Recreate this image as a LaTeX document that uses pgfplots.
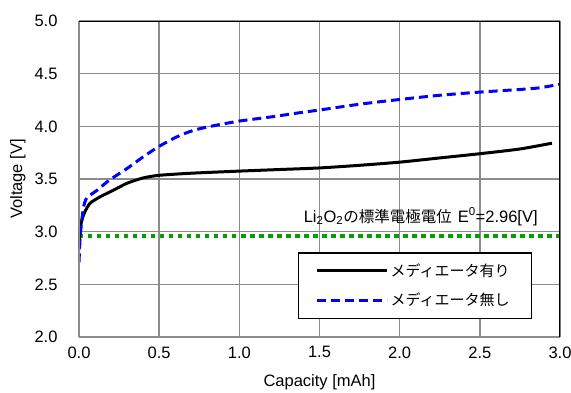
\documentclass[border=0pt]{standalone}
\usepackage{pgfplots}
\pgfplotsset{compat=1.18}
\usepackage{fontspec}
\setmainfont{Liberation Sans}
\newfontfamily\jp{Noto Sans CJK JP}
\definecolor{gridgray}{RGB}{140,140,140}
\definecolor{dgreen}{RGB}{0,160,0}
\begin{document}
\begin{tikzpicture}
\begin{axis}[
  at={(0,0)}, anchor=south west,
  scale only axis, width=481pt, height=316pt,
  xmin=0, xmax=3, ymin=2, ymax=5,
  xtick={0,0.5,1,1.5,2,2.5,3},
  ytick={2,2.5,3,3.5,4,4.5,5},
  /pgf/number format/.cd, fixed, fixed zerofill, precision=1, assume math mode=true, /pgfplots/.cd,
  tick style={draw=none},
  axis line style={draw=none},
  grid=major,
  major grid style={gridgray, line width=1.6pt},
  ticklabel style={font=\fontsize{16.5}{16.5}\selectfont},
  xticklabel style={yshift=-6pt},
  yticklabel style={xshift=-18pt},
  xlabel={Capacity [mAh]},
  ylabel={Voltage [V]},
  label style={font=\fontsize{16.5}{16.5}\selectfont},
  xlabel style={at={(axis description cs:0.5,-0.142)}, anchor=center},
  ylabel style={at={(axis description cs:-0.127,0.5)}, anchor=center},
  legend style={at={(rel axis cs:0.455,0.269)}, anchor=north west, draw=black, line width=1.6pt, fill=white,
    font=\jp\fontsize{15}{15}\selectfont, inner xsep=17pt, inner ysep=9pt, row sep=11pt,
    nodes={text width=122pt, align=left}},
  legend image code/.code={\draw[#1] (0pt,0pt) -- (70pt,0pt);},
  legend cell align=left,
]
\addplot[dgreen, line width=4pt, dash pattern=on 4.5pt off 4.5pt, forget plot] coordinates {(0,2.96) (3,2.96)};
\addplot[black, line width=3pt, smooth, tension=0.4] coordinates {
(0,2.83) (0.004,2.95) (0.01,3.05) (0.02,3.12) (0.037,3.19) (0.069,3.27) (0.13,3.33)
(0.21,3.39) (0.30,3.46) (0.40,3.51) (0.50,3.535) (0.70,3.555) (1.0,3.575) (1.25,3.59)
(1.5,3.605) (1.75,3.63) (2.0,3.66) (2.25,3.70) (2.5,3.74) (2.75,3.785) (2.95,3.84)};
\addlegendentry{メディエータ有り}
\addplot[blue, line width=3pt, dash pattern=on 9pt off 5pt, smooth, tension=0.4] coordinates {
(0,2.71) (0.005,2.88) (0.01,3.0) (0.027,3.22) (0.048,3.32) (0.11,3.39) (0.19,3.49)
(0.30,3.60) (0.40,3.71) (0.50,3.81) (0.61,3.90) (0.71,3.96) (0.82,4.00) (1.0,4.05)
(1.2,4.09) (1.38,4.13) (1.5,4.155) (1.75,4.21) (2.0,4.255) (2.25,4.295) (2.5,4.325)
(2.75,4.35) (2.87,4.365) (3.0,4.40)};
\addlegendentry{メディエータ無し}
\draw[gridgray, line width=2.2pt] (rel axis cs:0,1) -- (rel axis cs:0,0) -- (rel axis cs:1,0);
\draw[black, line width=2.2pt] (rel axis cs:0,1) -- (rel axis cs:1,1) -- (rel axis cs:1,0);
\node[anchor=base east, inner sep=0pt, font=\fontsize{16.5}{16.5}\selectfont] at (axis cs:2.862,3.09)
  {Li\textsubscript{2}O\textsubscript{2}{\jp\fontsize{15.5}{15.5}\selectfont の標準電極電位}\hspace{6pt}E\textsuperscript{0}=2.96[V]};
\end{axis}
\pgfresetboundingbox
\path[use as bounding box] (-79pt,-55pt) rectangle (492pt,337pt);
\end{tikzpicture}
\end{document}
